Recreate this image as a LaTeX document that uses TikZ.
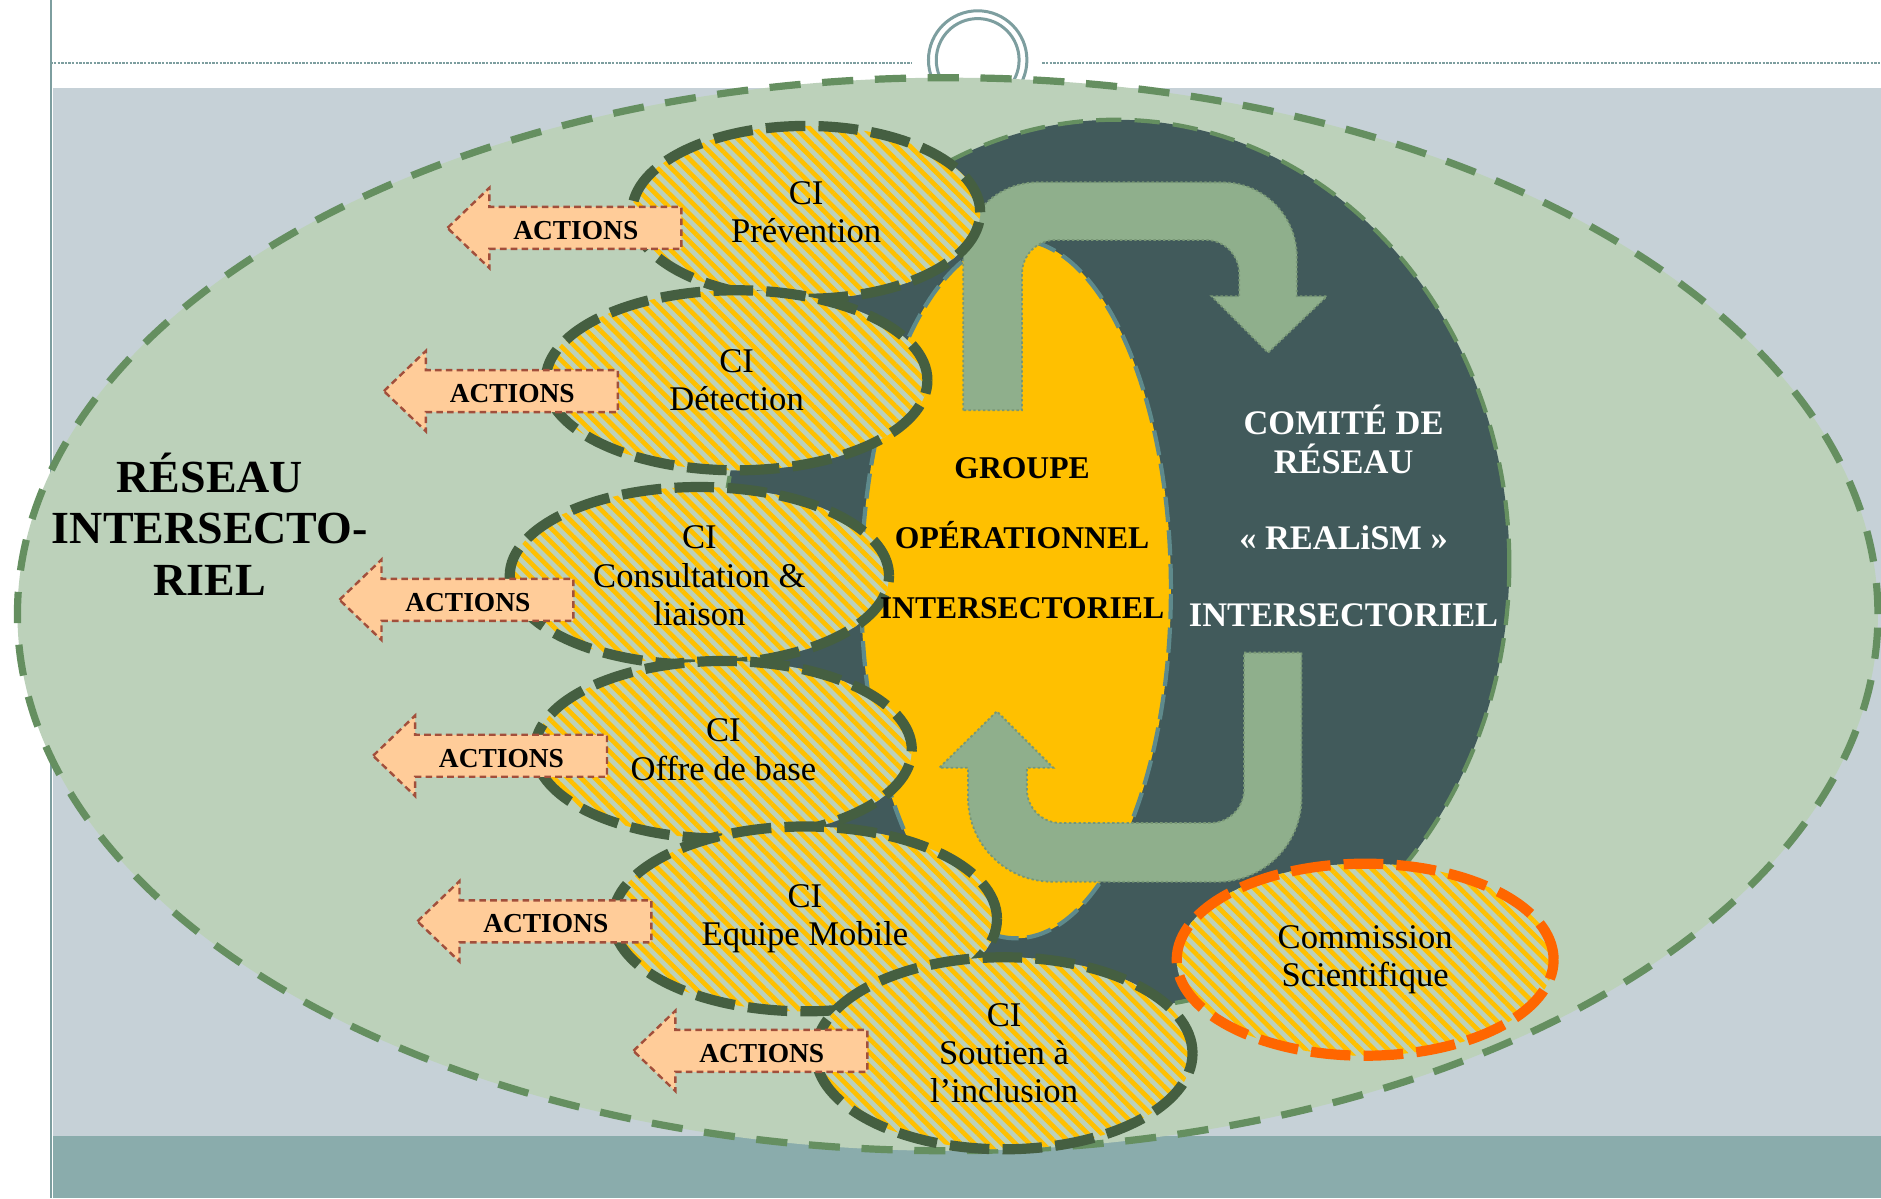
\documentclass[tikz,border=0pt]{standalone}
\usepackage{fontspec}
\setmainfont{Liberation Serif}
\usetikzlibrary{shapes.geometric,patterns.meta}

\definecolor{fondgris}{HTML}{C6D1D7}
\definecolor{bandeau}{HTML}{8AACAC}
\definecolor{filet}{HTML}{7D9E9F}
\definecolor{sauge}{HTML}{BCD1BA}
\definecolor{vertpointille}{HTML}{658F60}
\definecolor{ardoise}{HTML}{415A5B}
\definecolor{jaune}{HTML}{FFC000}
\definecolor{bordjaune}{HTML}{5E8A8C}
\definecolor{flechecycle}{HTML}{8FAF8C}
\definecolor{bordfleche}{HTML}{789775}
\definecolor{vertfonce}{HTML}{455F41}
\definecolor{orangevif}{HTML}{FF6600}
\definecolor{peche}{HTML}{FFCC99}
\definecolor{brique}{HTML}{A24F3B}

\begin{document}
\begin{tikzpicture}[
    x=0.01cm, y=-0.01cm,
    filet pointille/.style={draw=filet,line width=0.02cm,dash pattern=on 0.02cm off 0.01cm},
    anneau/.style={draw=filet,line width=0.025cm},
    reseau/.style={fill=sauge,draw=vertpointille,line width=0.06cm,dash pattern=on 0.26cm off 0.18cm},
    comite/.style={fill=ardoise,draw=vertpointille,line width=0.035cm,dash pattern=on 0.21cm off 0.11cm},
    groupe/.style={fill=jaune,draw=bordjaune,line width=0.035cm,dash pattern=on 0.21cm off 0.07cm},
    fleche cycle/.style={fill=flechecycle,draw=bordfleche,line width=0.015cm,dash pattern=on 0.02cm off 0.02cm},
    ci/.style={ellipse,draw=vertfonce,line width=0.085cm,dash pattern=on 0.33cm off 0.11cm,
        preaction={fill=sauge},pattern={Lines[angle=-45,distance=2.3pt,line width=1.1pt]},
        pattern color=jaune,inner sep=0pt,align=center,font=\fontsize{8.2}{9.1}\selectfont},
    commission/.style={ci,draw=orangevif},
    action/.style={fill=peche,draw=brique,line width=0.02cm,dash pattern=on 0.055cm off 0.035cm},
    action label/.style={font=\bfseries\fontsize{6.5}{7}\selectfont,inner sep=0pt},
    titre/.style={font=\bfseries\fontsize{10.9}{12.2}\selectfont,align=center,inner sep=0pt},
    titre groupe/.style={font=\bfseries\fontsize{7.5}{16.6}\selectfont,align=center,inner sep=0pt},
    titre comite/.style={font=\bfseries\fontsize{8.16}{9.2}\selectfont,align=center,text=white,inner sep=0pt}
]
\useasboundingbox (0,0) rectangle (1568,999);

% Fond de la diapositive
\fill[white] (0,0) rectangle (1568,999);
\draw[filet pointille] (42,52.5) -- (760,52.5);
\draw[filet pointille] (869,52.5) -- (1568,52.5);
\draw[anneau] (815,50) circle [radius=0.41cm];
\draw[anneau] (815,50) circle [radius=0.345cm];
\fill[fondgris] (44,73) rectangle (1568,947);
\fill[bandeau] (44,947) rectangle (1568,999);
\draw[filet,line width=0.02cm] (42.5,0) -- (42.5,999);

% Réseau intersectoriel (grande ellipse)
\draw[reseau] (790,512) ellipse [x radius=7.75cm, y radius=4.47cm];

% Comité de réseau
\draw[comite] (930,470) ellipse [x radius=3.28cm, y radius=3.70cm];

% Groupe opérationnel
\draw[groupe] (847,491) ellipse [x radius=1.29cm, y radius=2.91cm];

% Flèches du cycle
\draw[fleche cycle] (803,342) -- (803,214) arc[start angle=180,end angle=90,radius=0.62cm]
    -- (1019,152) arc[start angle=90,end angle=0,radius=0.62cm]
    -- (1081,247) -- (1106,247) -- (1057,294) -- (1010,247) -- (1033,247)
    -- (1033,228) arc[start angle=0,end angle=90,radius=0.28cm]
    -- (880,200) arc[start angle=90,end angle=180,radius=0.28cm]
    -- (852,342) -- cycle;
\draw[fleche cycle] (1037,544) -- (1085,544) -- (1085,665) arc[start angle=0,end angle=-90,radius=0.7cm]
    -- (877,735) arc[start angle=-90,end angle=-180,radius=0.7cm]
    -- (807,640) -- (783,640) -- (831,593) -- (878,640) -- (856,640)
    -- (856,658) arc[start angle=180,end angle=270,radius=0.28cm]
    -- (1009,686) arc[start angle=270,end angle=360,radius=0.28cm]
    -- cycle;

% Comités intersectoriels
\node[ci,minimum width=2.90cm,minimum height=1.44cm] (prevention) at (672,177) {CI\\Prévention};
\node[ci,minimum width=3.18cm,minimum height=1.50cm] (detection) at (614,317) {CI\\Détection};
\node[ci,minimum width=3.16cm,minimum height=1.48cm] (consultation) at (583,480) {CI\\Consultation \&\\liaison};
\node[ci,minimum width=3.14cm,minimum height=1.48cm] (offre) at (603,625) {CI\\Offre de base};
\node[ci,minimum width=3.20cm,minimum height=1.54cm] (equipe) at (671,766) {CI\\Equipe Mobile};
\node[ci,minimum width=3.14cm,minimum height=1.60cm] (soutien) at (837,878) {CI\\Soutien à\\l’inclusion};
\node[commission,minimum width=3.14cm,minimum height=1.60cm] (commission) at (1138,800) {Commission\\Scientifique};

% Flèches ACTIONS
\foreach \x/\y [count=\i] in {373/190,320/326,283/500,311/630,348/768,528/876} {
    \draw[action] (\x,\y) -- ++(35,-33.5) -- ++(0,16) -- ++(160,0) -- ++(0,35) -- ++(-160,0) -- ++(0,16) -- cycle;
    \node[action label] (action\i) at ({\x+107},{\y+2}) {ACTIONS};
}

% Titres
\node[titre] (reseau) at (175,437) {RÉSEAU\\INTERSECTO-\\RIEL};
\node[titre groupe] (groupe) at (852,449) {GROUPE\\OPÉRATIONNEL\\INTERSECTORIEL};
\node[titre comite] (comite) at (1120,430) {COMITÉ DE\\RÉSEAU\\[9pt]« REALiSM »\\[9pt]INTERSECTORIEL};

\end{tikzpicture}
\end{document}
